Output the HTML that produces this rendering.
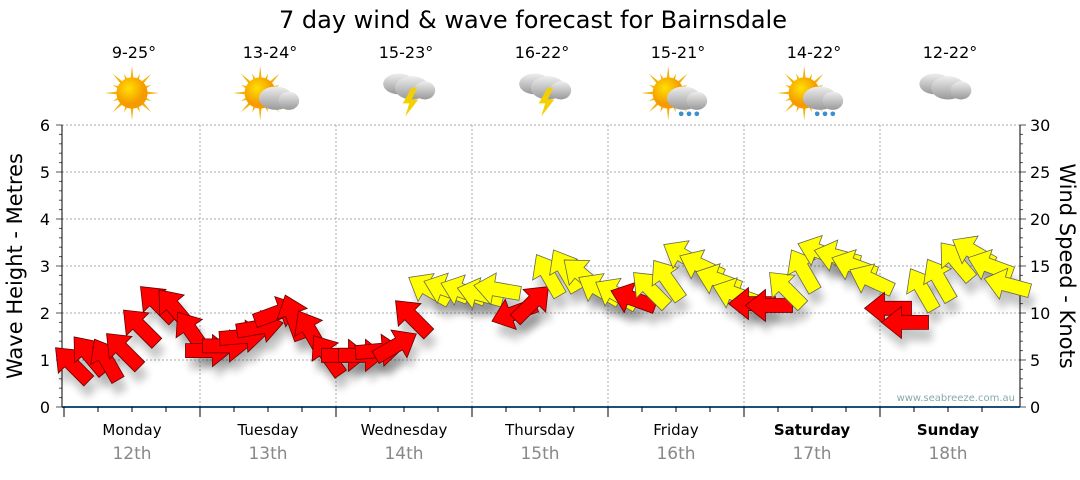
<!DOCTYPE html>
<html><head><meta charset="utf-8"><style>
body{margin:0;background:#fff;width:1080px;height:475px;overflow:hidden;font-family:"Liberation Sans","DejaVu Sans",sans-serif}
svg text{font-family:"DejaVu Sans","Liberation Sans",sans-serif}
</style></head><body>
<svg id="c" width="1080" height="475" xmlns="http://www.w3.org/2000/svg">
<defs>
<filter id="sh" x="-50%" y="-50%" width="200%" height="200%"><feGaussianBlur stdDeviation="4"/></filter>
<radialGradient id="sun" cx="40%" cy="35%"><stop offset="0" stop-color="#ffe000"/><stop offset="1" stop-color="#f59a00"/></radialGradient>
<linearGradient id="cl" x1="0" y1="0" x2="0" y2="1"><stop offset="0" stop-color="#eee"/><stop offset="1" stop-color="#999"/></linearGradient>
</defs>
<text x="533" y="28" font-size="24" text-anchor="middle" fill="#000">7 day wind &amp; wave forecast for Bairnsdale</text>
<g id="grid"></g><g id="axes"></g><g id="icons"></g><g id="marks"></g>
<text transform="translate(22,266) rotate(-90)" font-size="21" text-anchor="middle">Wave Height - Metres</text>
<text transform="translate(1060,266) rotate(90)" font-size="21" text-anchor="middle">Wind Speed - Knots</text>
<text x="1015" y="401" font-size="10" fill="#8aa" text-anchor="end">www.seabreeze.com.au</text>
</svg>
<script>
const days=["Monday","Tuesday","Wednesday","Thursday","Friday","Saturday","Sunday"];
const dates=["12th","13th","14th","15th","16th","17th","18th"];
const temps=["9-25°","13-24°","15-23°","16-22°","15-21°","14-22°","12-22°"];
const icons=["sun","suncloud","storm","storm","sunrain","sunrain","cloud"];
const waveTicks=[0,1,2,3,4,5,6];
const windTicks=[0,5,10,15,20,25,30];
// wind speed (knots), 3-hourly, 8 per day
const windSpeed=[4.5,5.5,5,6,8.5,11,10.5,8,
 6,6.5,7.5,8.5,10,9.5,8,5.5,
 5.5,5.5,6,6.5,9.5,12.5,12.5,12.3,
 12,12.5,10,11,14,14.5,14,12.5,
 12,11.5,12.5,13.5,16,15,13.5,12,
 11,10.8,12.5,14.5,16.5,16,15,13.5,
 10.5,9,12.5,13.5,15.5,16.5,15,13];
// arrow pointing direction (degrees, screen, 0=right, 90=up)
const windDir=[135,130,120,135,135,135,130,125,
 0,0,5,10,20,110,120,125,
 0,0,5,30,135,150,160,160,
 165,170,200,45,120,120,140,150,
 150,160,135,125,150,155,160,160,
 180,180,135,120,160,165,160,155,
 180,180,120,120,130,150,160,165];
const X0=64,DW=136,Y0=407,YT=125;
const yW=v=>Y0-(Y0-YT)*v/6, yK=v=>Y0-(Y0-YT)*v/30;
const xP=i=>X0+DW*(Math.floor(i/8)+((i%8)+0.5)/8);
const NS="http://www.w3.org/2000/svg";
function mk(t,a,p){const e=document.createElementNS(NS,t);for(const k in a)e.setAttribute(k,a[k]);p.appendChild(e);return e;}
const grid=document.getElementById('grid'),axes=document.getElementById('axes'),ic=document.getElementById('icons'),mk2=document.getElementById('marks');
waveTicks.forEach(v=>{if(v>0){const l=mk('line',{x1:62,x2:1020,y1:yW(v),y2:yW(v),stroke:'#aaa','stroke-dasharray':'2,2'},grid);}
 const t=mk('text',{x:50,y:yW(v)+6,'font-size':16,'text-anchor':'end'},axes);t.textContent=v;
 mk('line',{x1:56,x2:62,y1:yW(v),y2:yW(v),stroke:'#000'},axes);});
for(let k=0;k<=30;k++){const y=yK(k);mk('line',{x1:k%5?59:56,x2:62,y1:y,y2:y,stroke:'#555'},axes);mk('line',{x1:1020,x2:k%5?1023:1026,y1:y,y2:y,stroke:'#555'},axes);}
windTicks.forEach(v=>{const t=mk('text',{x:1030,y:yK(v)+6,'font-size':16},axes);t.textContent=v;});
mk('line',{x1:62,x2:62,y1:YT,y2:Y0,stroke:'#000'},axes);mk('line',{x1:1020,x2:1020,y1:YT,y2:Y0,stroke:'#000'},axes);
mk('line',{x1:62,x2:1020,y1:Y0,y2:Y0,stroke:'#1d4f7a','stroke-width':2},axes);
days.forEach((d,i)=>{const x0=X0+i*DW,cx=x0+DW/2;
 if(i>0){const g=mk('line',{x1:x0,x2:x0,y1:YT,y2:Y0,stroke:'#aaa','stroke-dasharray':'2,2'},grid);}
 mk('line',{x1:x0,x2:x0,y1:Y0,y2:Y0+10,stroke:'#000'},axes);
 for(let j=1;j<4;j++)mk('line',{x1:x0+j*DW/4,x2:x0+j*DW/4,y1:Y0,y2:Y0+5,stroke:'#000'},axes);
 const a=mk('text',{x:cx,y:435,'font-size':15,'text-anchor':'middle','font-weight':i>=5?'bold':'normal'},axes);a.textContent=d;
 const b=mk('text',{x:cx,y:459,'font-size':17,'text-anchor':'middle',fill:'#888'},axes);b.textContent=dates[i];
 const t=mk('text',{x:cx+2,y:58,'font-size':16,'text-anchor':'middle'},ic);t.textContent=temps[i];
 const g=mk('g',{transform:`translate(${cx},93) scale(1.3)`},ic);
 const k=icons[i];
 if(k.startsWith('sun')){const sx=k==='sun'?0:-6;for(let r=0;r<16;r++){const an=r*Math.PI/8,L=r%2?16:21;mk('polygon',{points:`${sx+Math.cos(an-0.12)*10},${Math.sin(an-0.12)*10} ${sx+Math.cos(an)*L},${Math.sin(an)*L} ${sx+Math.cos(an+0.12)*10},${Math.sin(an+0.12)*10}`,fill:'#f5b000'},g);}mk('circle',{cx:sx,cy:0,r:12,fill:'url(#sun)'},g);}
 if(k!=='sun'){const cx2=k==='cloud'?0:6,cy2=k.startsWith('sun')?4:-4;
  if(k==='storm'||k==='cloud'){mk('ellipse',{cx:cx2-10,cy:cy2-3,rx:12,ry:8,fill:'url(#cl)'},g);}
  mk('ellipse',{cx:cx2,cy:cy2,rx:13,ry:9,fill:'url(#cl)'},g);mk('ellipse',{cx:cx2+10,cy:cy2+2,rx:8,ry:7,fill:'url(#cl)'},g);
  if(k==='storm')mk('polygon',{points:`${cx2},${cy2} ${cx2-7},${cy2+12} ${cx2-2},${cy2+12} ${cx2-5},${cy2+22} ${cx2+5},${cy2+9} ${cx2},${cy2+9} ${cx2+4},${cy2}`,fill:'#f5d000'},g);
  if(k==='sunrain'){[-2,4,10].forEach(d=>mk('circle',{cx:cx2+d,cy:cy2+12,r:1.8,fill:'#3a8fd0'},g));}}
});
function arrowPts(){return "-23,-7 4,-7 4,-16 24,0 4,16 4,7 -23,7";}
windSpeed.forEach((s,i)=>{const x=xP(i),y=yK(s),r=-windDir[i];
 const sh=mk('polygon',{points:arrowPts(),fill:'#000',opacity:0.22,filter:'url(#sh)',transform:`translate(${x+4},${y+12}) rotate(${r})`},mk2);
 });
windSpeed.forEach((s,i)=>{const x=xP(i),y=yK(s),r=-windDir[i];
 const a=mk('polygon',{points:arrowPts(),fill:s<12?'#ff0000':'#ffff00',stroke:s<12?'#600':'#665',"stroke-width":0.8,transform:`translate(${x},${y}) rotate(${r})`},mk2);
 });
</script>
</body></html>
